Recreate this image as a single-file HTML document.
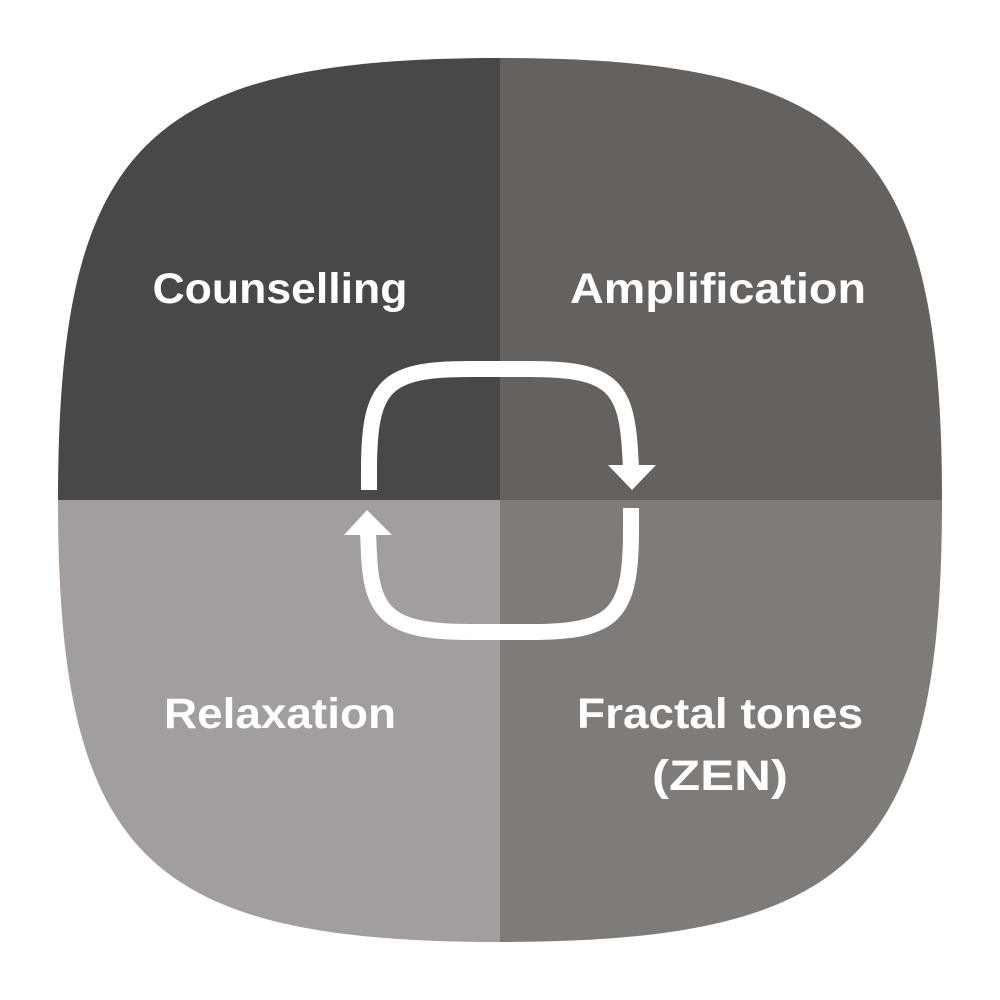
<!DOCTYPE html>
<html><head><style>html,body{margin:0;padding:0;background:#fff;}svg{display:block}</style></head>
<body>
<svg width="1000" height="1000" viewBox="0 0 1000 1000" xmlns="http://www.w3.org/2000/svg">
<defs>
<clipPath id="c">
<path d="M500,58 C855,58 942,145 942,500 C942,855 855,942 500,942 C145,942 58,855 58,500 C58,145 145,58 500,58 Z"/>
</clipPath>
</defs>
<g clip-path="url(#c)">
<rect x="0" y="0" width="500" height="500" fill="#4a4846"/>
<rect x="500" y="0" width="500" height="500" fill="#65615e"/>
<rect x="0" y="500" width="500" height="500" fill="#a19e9d"/>
<rect x="500" y="500" width="500" height="500" fill="#7f7b78"/>
</g>
<g fill="none" stroke="#fff" stroke-width="16">
<path d="M369,490 L369,470 C369,385 385,369 470,369 L530,369 C610,369 626,385 630,450 L631,468"/>
<path d="M631,508 L631,530 C631,615 615,632 530,632 L470,632 C390,632 372,615 369,555 L368,532"/>
</g>
<polygon points="608,465 656,465 632,490" fill="#fff"/>
<polygon points="344,535 392,535 367,510" fill="#fff"/>
<g fill="#fff" font-family="Liberation Sans, sans-serif" font-weight="bold" font-size="43" text-anchor="middle">
<text x="280" y="303" textLength="255" lengthAdjust="spacingAndGlyphs">Counselling</text>
<text x="718" y="303" textLength="296" lengthAdjust="spacingAndGlyphs">Amplification</text>
<text x="280" y="728" textLength="232" lengthAdjust="spacingAndGlyphs">Relaxation</text>
<text x="720" y="728" textLength="286" lengthAdjust="spacingAndGlyphs">Fractal tones</text>
<text x="720" y="790" textLength="136" lengthAdjust="spacingAndGlyphs">(ZEN)</text>
</g>
</svg>
</body></html>
